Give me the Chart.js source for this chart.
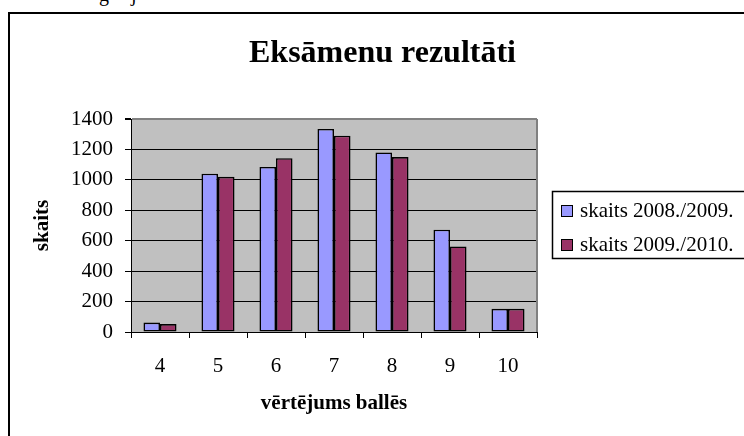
<!DOCTYPE html>
<html>
<head>
<meta charset="utf-8">
<script src="https://cdn.jsdelivr.net/npm/chart.js@4/dist/chart.umd.min.js"></script>
<style>
  html, body { margin: 0; padding: 0; background: #fff; }
  body { width: 744px; height: 436px; position: relative; overflow: hidden; font-family: "Liberation Serif", "Times New Roman", serif; }
  .frame { position: absolute; left: 8px; top: 12px; width: 800px; height: 500px; border: 2px solid #000; }
  .cut { position: absolute; top: -16px; font-size: 20px; line-height: 20px; }
  #chart { position: absolute; left: 0; top: 0; }
</style>
</head>
<body>
<span class="cut" style="left:99px">g</span>
<span class="cut" style="left:131px">j</span>
<div class="frame"></div>
<canvas id="chart" width="744" height="436"></canvas>
<script>
/* ===========================
   DATA
=========================== */
const grades = ["4", "5", "6", "7", "8", "9", "10"];
const count0809 = [62, 1040, 1085, 1335, 1180, 672, 152];
const count0910 = [52, 1020, 1142, 1290, 1150, 562, 152];
const seriesNames = ["skaits 2008./2009.", "skaits 2009./2010."];
const seriesColors = ["#9999ff", "#993366"];
const yMin = 0, yMax = 1400, yStep = 200;

const chartTitle = "Eksāmenu rezultāti";
const xTitle = "vērtējums ballēs";
const yTitle = "skaits";

const serif = "'Liberation Serif', 'Times New Roman', serif";

/* ===========================
   PLUGINS
=========================== */
// grey plot background + grey right edge
const plotArea = {
  id: "plotArea",
  beforeDraw(chart) {
    const { ctx, chartArea: a } = chart;
    ctx.save();
    ctx.fillStyle = "#c0c0c0";
    ctx.fillRect(a.left, a.top, a.right - a.left, a.bottom - a.top);
    ctx.restore();
  },
  beforeDatasetsDraw(chart) {
    const { ctx, chartArea: a } = chart;
    ctx.save();
    ctx.strokeStyle = "#808080";
    ctx.lineWidth = 2;
    ctx.beginPath();
    ctx.moveTo(a.right, a.top);
    ctx.lineTo(a.right, a.bottom);
    ctx.stroke();
    ctx.restore();
  }
};

// title + boxed legend on the right
const titleLegend = {
  id: "titleLegend",
  afterDraw(chart) {
    const { ctx } = chart;
    ctx.save();
    ctx.fillStyle = "#000";
    ctx.textAlign = "center";
    ctx.textBaseline = "alphabetic";
    ctx.font = "bold 32px " + serif;
    ctx.fillText(chartTitle, 382.5, 62);

    // legend box
    ctx.strokeStyle = "#000";
    ctx.lineWidth = 1.5;
    ctx.strokeRect(552.5, 191.5, 220, 67);

    ctx.font = "21px " + serif;
    ctx.textAlign = "left";
    chart.data.datasets.forEach((ds, i) => {
      const y = 205 + i * 34;
      ctx.fillStyle = ds.backgroundColor;
      ctx.fillRect(561, y, 11, 11);
      ctx.lineWidth = 1;
      ctx.strokeRect(561.5, y + 0.5, 11, 11);
      ctx.fillStyle = "#000";
      ctx.fillText(ds.label, 580, y + 12);
    });
    ctx.restore();
  }
};

/* ===========================
   CHART
=========================== */
new Chart(document.getElementById("chart"), {
  type: "bar",
  data: {
    labels: grades,
    datasets: [count0809, count0910].map((vals, i) => ({
      label: seriesNames[i],
      data: vals,
      backgroundColor: seriesColors[i],
      borderColor: "#000",
      borderWidth: 1.6,
      borderSkipped: false,
      categoryPercentage: 0.57,
      barPercentage: 1
    }))
  },
  options: {
    responsive: false,
    animation: false,
    devicePixelRatio: 1,
    layout: { padding: { left: 0, top: 119, right: 207, bottom: 0 } },
    plugins: {
      legend: { display: false },
      title: { display: false },
      tooltip: { enabled: false }
    },
    scales: {
      x: {
        afterFit: s => { s.height = 104; },
        grid: {
          offset: true,
          drawOnChartArea: false,
          drawTicks: true,
          tickLength: 6,
          color: "#000"
        },
        border: { color: "#000", width: 1 },
        ticks: { color: "#000", padding: 16, font: { family: serif, size: 21 } },
        title: {
          display: true,
          text: xTitle,
          color: "#000",
          font: { family: serif, size: 21, weight: "bold" },
          padding: { top: 0, bottom: 20 }
        }
      },
      y: {
        min: yMin,
        max: yMax,
        afterFit: s => { s.width = 131; },
        ticks: {
          stepSize: yStep,
          color: "#000",
          padding: 12,
          font: { family: serif, size: 21 },
          callback: v => String(v)
        },
        grid: {
          color: c => (c.tick && c.tick.value === yMax ? "#808080" : "#000"),
          lineWidth: c => (c.tick && c.tick.value === yMax ? 2 : 1),
          tickColor: "#000",
          tickLength: 6
        },
        border: { color: "#000", width: 1 },
        title: {
          display: true,
          text: yTitle,
          color: "#000",
          font: { family: serif, size: 21, weight: "bold" },
          padding: { top: 30, bottom: 0 }
        }
      }
    }
  },
  plugins: [plotArea, titleLegend]
});
</script>
</body>
</html>
